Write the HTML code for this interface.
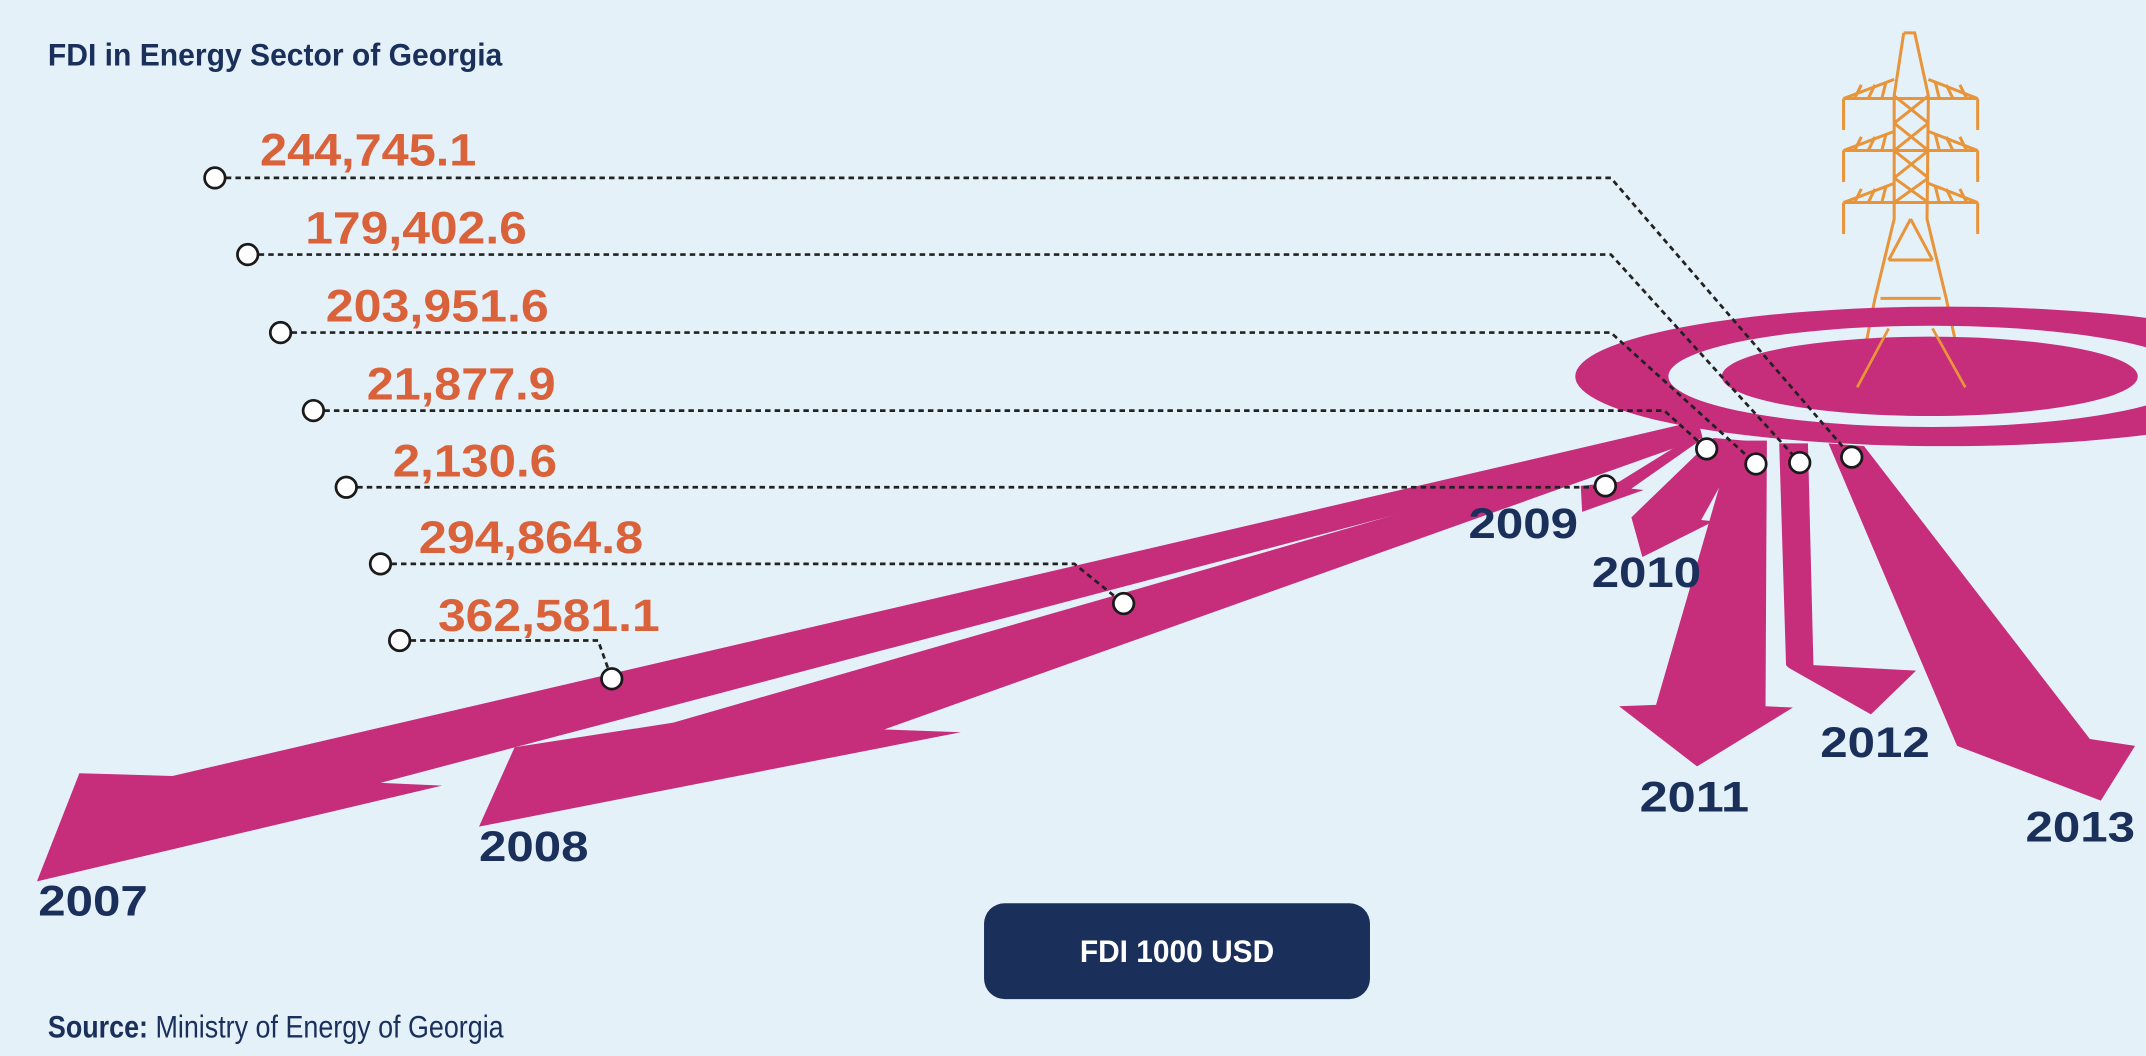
<!DOCTYPE html>
<html><head><meta charset="utf-8"><style>
html,body{margin:0;padding:0;background:#e4f1f8;}
svg{display:block}
</style></head><body>
<svg width="2146" height="1056" viewBox="0 0 1568 771.6" preserveAspectRatio="none" xmlns="http://www.w3.org/2000/svg">
<rect width="1568" height="772" fill="#e4f1f8"/>
<text x="35" y="48" font-family="Liberation Sans, sans-serif" font-weight="bold" font-size="23" fill="#1b2f5b" textLength="332" lengthAdjust="spacingAndGlyphs">FDI in Energy Sector of Georgia</text>

<!-- tower -->
<g stroke="#e8943a" stroke-width="2.2" fill="none">
<path d="M1391,24 L1399,24 L1409,70 L1408,160 L1422,218 L1436,283 M1391,24 L1384,70 L1384,160 L1370,218 L1357,283"/>
<path d="M1347,72 L1384,58 M1409,58 L1445,72 M1347,72 L1445,72 M1347,110 L1384,96 M1409,96 L1445,110 M1347,110 L1445,110 M1347,148 L1384,134 M1409,134 L1445,148 M1347,148 L1445,148"/>
<path d="M1347,72 V95 M1445,72 V95 M1347,110 V133 M1445,110 V133 M1347,148 V171 M1445,148 V171"/>
<path d="M1384,70 L1409,90 M1409,70 L1384,90 M1384,90 L1409,110 M1409,90 L1384,110 M1384,110 L1409,130 M1409,110 L1384,130 M1384,130 L1409,148 M1409,130 L1384,148 M1380,190 L1412,190 M1396,160 L1380,190 M1396,160 L1412,190 M1374,218 L1418,218 M1366,250 L1426,250"/>
<path d="M1355,72 L1360,62 M1365,72 L1370,62 M1375,72 L1378,60 M1437,72 L1432,62 M1427,72 L1422,62 M1417,72 L1414,60 M1355,110 L1360,100 M1365,110 L1370,100 M1375,110 L1378,98 M1437,110 L1432,100 M1427,110 L1422,100 M1417,110 L1414,98 M1355,148 L1360,138 M1365,148 L1370,138 M1375,148 L1378,136 M1437,148 L1432,138 M1427,148 L1422,138 M1417,148 L1414,136"/>
</g>

<!-- rings -->
<path fill-rule="evenodd" fill="#c62d7a" d="M1151,275 A270,51 0 1 0 1691,275 A270,51 0 1 0 1151,275 Z M1219,275 A192,37 0 1 0 1603,275 A192,37 0 1 0 1219,275 Z"/>
<ellipse cx="1410" cy="275" rx="152" ry="29" fill="#c62d7a"/>
<g stroke="#e8943a" stroke-width="2" fill="none"><path d="M1380,240 L1357,283 M1412,240 L1436,283"/></g>

<!-- arrows -->
<g fill="#c62d7a">
<polygon points="1238,308 126,567 58,565 27,644 323,574 278,572 1240,318"/>
<polygon points="1242,312 492,528 376,546 350,604 702,535 646,533 1244,320"/>
<polygon points="1238,318 1183,352 1155,355 1156,374 1201,358 1192,357 1242,322"/>
<polygon points="1252,320 1192,378 1200,407 1252,381 1243,380 1275,322"/>
<polygon points="1266,322 1210,515 1183,516 1240,560 1310,517 1290,516 1291,322"/>
<polygon points="1300,324 1305,486 1307,488 1367,522 1400,490 1325,486 1321,324"/>
<polygon points="1336,324 1430,545 1535,585 1560,545 1527,540 1362,326"/>
</g>

<!-- dotted leader lines -->
<g stroke="#222" stroke-width="2" stroke-dasharray="4,3" fill="none">
<polyline points="165,130 1177,130 1353,334"/>
<polyline points="189,186 1177,186 1315,338"/>
<polyline points="213,243 1177,243 1283,339"/>
<polyline points="237,300 1216,300 1247,328"/>
<polyline points="261,356 1173,356"/>
<polyline points="286,412 785,412 821,441"/>
<polyline points="300,468 437,468 447,496"/>
</g>
<g fill="#fff" stroke="#1a1a1a" stroke-width="2">
<circle cx="157" cy="130" r="7.5"/><circle cx="181" cy="186" r="7.5"/><circle cx="205" cy="243" r="7.5"/>
<circle cx="229" cy="300" r="7.5"/><circle cx="253" cy="356" r="7.5"/><circle cx="278" cy="412" r="7.5"/>
<circle cx="292" cy="468" r="7.5"/>
<circle cx="1353" cy="334" r="7.5"/><circle cx="1315" cy="338" r="7.5"/><circle cx="1283" cy="339" r="7.5"/>
<circle cx="1247" cy="328" r="7.5"/><circle cx="1173" cy="355" r="7.5"/><circle cx="821" cy="441" r="7.5"/>
<circle cx="447" cy="496" r="7.5"/>
</g>

<g font-family="Liberation Sans, sans-serif" font-weight="bold" font-size="33" fill="#d9623b">
<text x="190" y="121" textLength="158" lengthAdjust="spacingAndGlyphs">244,745.1</text>
<text x="223" y="178" textLength="162" lengthAdjust="spacingAndGlyphs">179,402.6</text>
<text x="238" y="235" textLength="163" lengthAdjust="spacingAndGlyphs">203,951.6</text>
<text x="268" y="292" textLength="138" lengthAdjust="spacingAndGlyphs">21,877.9</text>
<text x="287" y="348" textLength="120" lengthAdjust="spacingAndGlyphs">2,130.6</text>
<text x="306" y="404" textLength="164" lengthAdjust="spacingAndGlyphs">294,864.8</text>
<text x="320" y="461" textLength="162" lengthAdjust="spacingAndGlyphs">362,581.1</text>
</g>

<g font-family="Liberation Sans, sans-serif" font-weight="bold" font-size="31" fill="#1b2f5b">
<text x="28" y="669" textLength="80" lengthAdjust="spacingAndGlyphs">2007</text>
<text x="350" y="629" textLength="80" lengthAdjust="spacingAndGlyphs">2008</text>
<text x="1073" y="393" textLength="80" lengthAdjust="spacingAndGlyphs">2009</text>
<text x="1163" y="429" textLength="80" lengthAdjust="spacingAndGlyphs">2010</text>
<text x="1198" y="593" textLength="80" lengthAdjust="spacingAndGlyphs">2011</text>
<text x="1330" y="553" textLength="80" lengthAdjust="spacingAndGlyphs">2012</text>
<text x="1480" y="615" textLength="80" lengthAdjust="spacingAndGlyphs">2013</text>
</g>

<rect x="719" y="660" width="282" height="70" rx="15" fill="#1b2f5b"/>
<text x="860" y="703" text-anchor="middle" font-family="Liberation Sans, sans-serif" font-weight="bold" font-size="23" fill="#fff" textLength="142" lengthAdjust="spacingAndGlyphs">FDI 1000 USD</text>

<text x="35" y="758" font-family="Liberation Sans, sans-serif" font-size="23" fill="#1b2f5b" textLength="333" lengthAdjust="spacingAndGlyphs"><tspan font-weight="bold">Source:</tspan> Ministry of Energy of Georgia</text>
</svg>
</body></html>
